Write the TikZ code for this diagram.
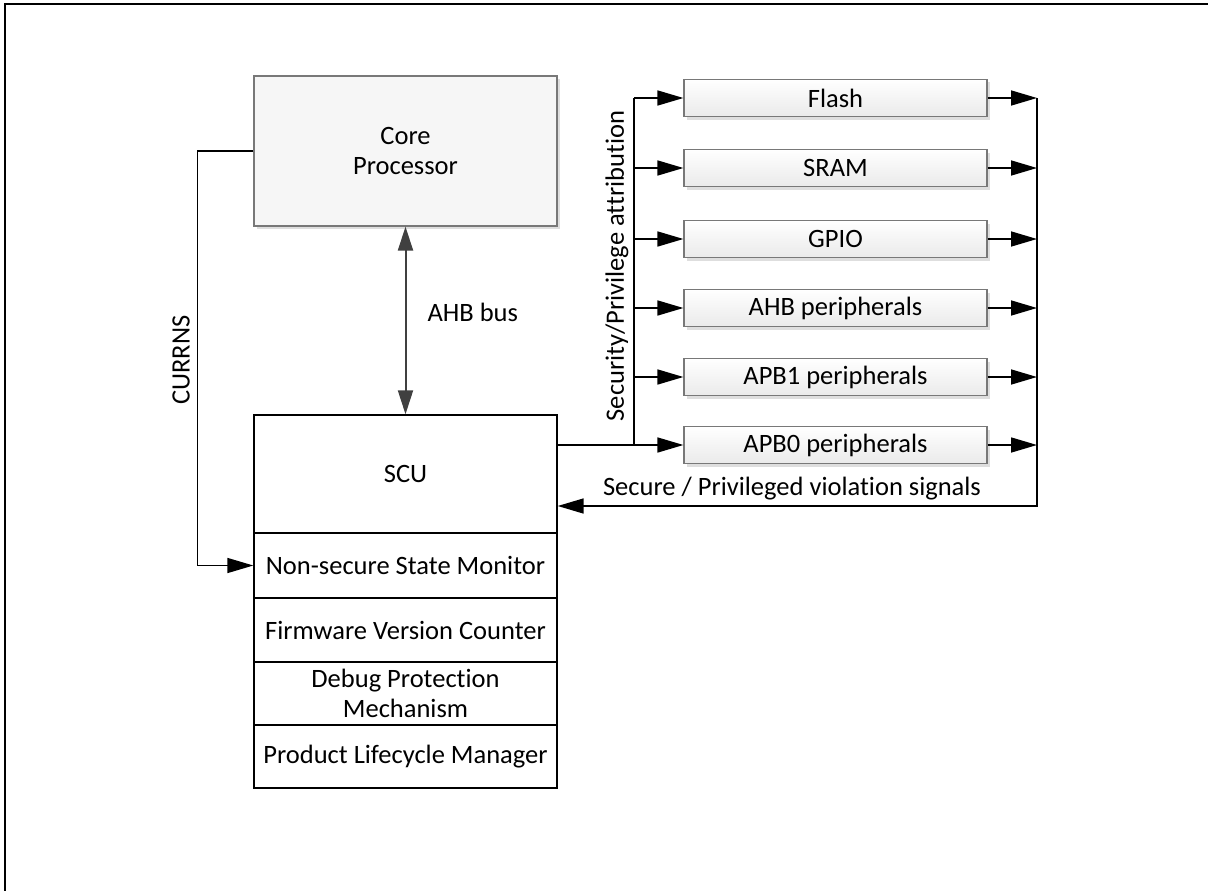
\documentclass[tikz,border=0pt]{standalone}
\usepackage{fontspec}
\setmainfont{Carlito}[Ligatures=NoCommon]
\usetikzlibrary{arrows.meta,shadows}
\definecolor{corefill}{RGB}{246,246,246}
\definecolor{pertop}{RGB}{255,255,255}
\definecolor{perbot}{RGB}{234,234,234}
\definecolor{boxedge}{RGB}{120,120,120}
\definecolor{busgray}{RGB}{64,64,64}
\definecolor{shadowgray}{RGB}{222,222,222}
\tikzset{
  txt/.style={font=\fontsize{26.5}{30}\selectfont, text=black},
  softshadow/.style={drop shadow={shadow xshift=3pt, shadow yshift=-3pt, fill=shadowgray, opacity=1}},
  corebox/.style={txt, draw=boxedge, line width=1.2pt, fill=corefill,
    minimum width=303pt, minimum height=150pt, align=center, inner sep=0pt, softshadow},
  perbox/.style={txt, draw=boxedge, line width=1.2pt, top color=pertop, bottom color=perbot,
    minimum width=303pt, minimum height=37pt, inner sep=0pt, softshadow},
  unitbox/.style={txt, draw=black, line width=1.4pt, fill=white, minimum width=303pt,
    align=center, inner sep=0pt},
  wire/.style={draw=black, line width=1.6pt},
  arr/.style={wire, -{Triangle[length=26pt, width=15pt]}},
  busarr/.style={draw=busgray, line width=2pt, {Triangle[length=24pt, width=15pt]}-{Triangle[length=24pt, width=15pt]}},
}
\begin{document}
\begin{tikzpicture}[x=1pt, y=-1pt]
\useasboundingbox (0,0) rectangle (1208,891);
% page frame
\draw[line width=1.6pt] (5,4) rectangle (1220,905);

% processor and system control unit
\node[corebox] (core) at (405.5,151) {Core\\Processor};
\node[unitbox, minimum height=118pt] (scu) at (405.5,474) {SCU};
\node[unitbox, minimum height=65pt] (nsm) at (405.5,565.5) {Non-secure State Monitor};
\node[unitbox, minimum height=64pt] (fvc) at (405.5,630) {Firmware Version Counter};
\node[unitbox, minimum height=63pt] (dpm) at (405.5,693.5) {Debug Protection\\Mechanism};
\node[unitbox, minimum height=63pt] (plm) at (405.5,756.5) {Product Lifecycle Manager};

% peripherals
\node[perbox] (flash) at (835.5,98)  {Flash};
\node[perbox] (sram)  at (835.5,168) {SRAM};
\node[perbox] (gpio)  at (835.5,239) {GPIO};
\node[perbox] (ahbp)  at (835.5,308) {AHB peripherals};
\node[perbox] (apb1)  at (835.5,377) {APB1 peripherals};
\node[perbox] (apb0)  at (835.5,445) {APB0 peripherals};

\coordinate (busx) at (634,0);
\coordinate (colx) at (1037,0);
\coordinate (colbot) at (1037,506);

% AHB bus
\draw[busarr] (core.south) -- (scu.north);
\node[txt, anchor=west] (ahblbl) at (424,312) {AHB bus};

% CURRNS
\draw[arr] (core.west) -- ++(-56,0) |- (nsm.west);
\node[txt, rotate=90] (currns) at (181,360) {CURRNS};

% attribution bus from SCU to peripherals
\draw[arr] (scu.east |- apb0) -- (apb0.west);
\draw[wire] (busx |- apb0) -- (busx |- flash);
\foreach \p in {flash,sram,gpio,ahbp,apb1}
  \draw[arr] (busx |- \p) -- (\p.west);
\node[txt, rotate=90] (attlbl) at (617,266) {Security/Privilege attribution};

% violation signals back to SCU
\foreach \p in {flash,sram,gpio,ahbp,apb1,apb0}
  \draw[arr] (\p.east) -- (colx |- \p);
\draw[arr] (colx |- flash) -- (colbot) -- (scu.east |- colbot);
\node[txt] (viollbl) at (792,489) {Secure / Privileged violation signals};
\end{tikzpicture}
\end{document}
